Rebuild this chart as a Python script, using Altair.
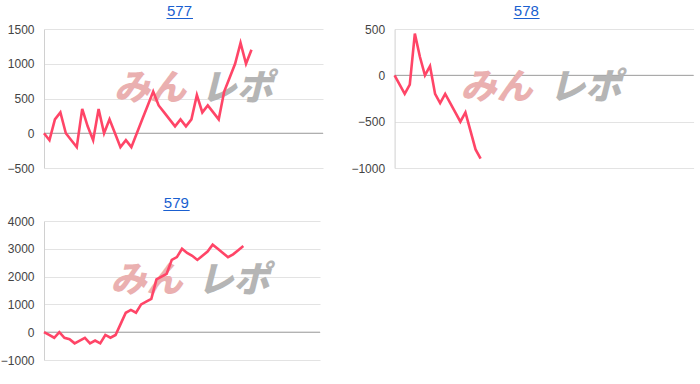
import altair as alt
import pandas as pd

# ---- data ----
v577 = [0, -100, 200, 300, 0, -100, -200, 350, 100, -100, 350, 0, 200, 0, -200, -100, -200,
        0, 200, 400, 600, 400, 300, 200, 100, 200, 100, 200, 550, 300, 400, 300, 200,
        600, 800, 1000, 1300, 1000, 1200]
v578 = [0, -100, -200, -100, 450, 200, 0, 100, -200, -300, -200, -300, -400, -500, -400,
        -600, -800, -900]
v579 = [0, -100, -200, 0, -200, -250, -400, -300, -200, -400, -300, -400, -100, -200, -100,
        300, 700, 800, 700, 1000, 1100, 1200, 1900, 2000, 2100, 2600, 2700, 3000, 2850, 2750,
        2600, 2750, 2900, 3150, 3000, 2850, 2700, 2800, 2950, 3100]

ticks577 = [-500, 0, 500, 1000, 1500]
ticks578 = [-1000, -500, 0, 500]
ticks579 = [-1000, 0, 1000, 2000, 3000, 4000]

LINE = "#ff4567"
BLUE = "#1a5fd0"
FONT = "Liberation Sans"


def panel(name, values, ticks, xmax, width, title_x, ul, wm_pink_x, wm_gray_x, wm_y):
    df = pd.DataFrame({"i": list(range(len(values))), "v": values})
    yscale = alt.Scale(domain=[ticks[0], ticks[-1]], nice=False, zero=False)
    xscale = alt.Scale(domain=[0, xmax], nice=False, zero=False)
    yaxis = alt.Axis(values=ticks, format="d", grid=True, gridColor="#e3e3e3", domain=True,
                     domainColor="#d0d0d0", ticks=False, labelPadding=10,
                     labelColor="#444444", labelFontSize=12, labelFont=FONT,
                     labelFlush=False, labelOverlap=False, labelBound=False, title=None)
    one = alt.Data(values=[{}])

    zero = alt.Chart(pd.DataFrame({"v": [0]})).mark_rule(color="#9e9e9e", strokeWidth=1).encode(
        y=alt.Y("v:Q", scale=yscale, axis=yaxis))
    pink = alt.Chart(one).mark_text(font="Noto Sans CJK JP", fontSize=36, fontWeight=900,
                                    fontStyle="italic", color="#eab0b0", align="center",
                                    baseline="middle").encode(
        x=alt.value(wm_pink_x), y=alt.value(wm_y), text=alt.value("みん"))
    gray = alt.Chart(one).mark_text(font="Noto Sans CJK JP", fontSize=36, fontWeight=900,
                                    fontStyle="italic", color="#b5b5b5", align="center",
                                    baseline="middle").encode(
        x=alt.value(wm_gray_x), y=alt.value(wm_y), text=alt.value("レポ"))
    line = alt.Chart(df).mark_line(color=LINE, strokeWidth=2.6).encode(
        x=alt.X("i:Q", scale=xscale, axis=None),
        y=alt.Y("v:Q", scale=yscale, axis=yaxis))
    title = alt.Chart(one).mark_text(font=FONT, fontSize=15, color=BLUE, align="center",
                                     baseline="alphabetic").encode(
        x=alt.value(title_x), y=alt.value(-13.5), text=alt.value(name))
    under = alt.Chart(one).mark_rule(color=BLUE, strokeWidth=1).encode(
        x=alt.value(ul[0]), x2=alt.value(ul[1]), y=alt.value(-10.5))
    return alt.layer(zero, pink, gray, line, title, under).properties(width=width, height=139)


p577 = panel("577", v577, ticks577, 51.1, 279, 135.5, (122.5, 149), 106, 192.8, 59.7)
p578 = panel("578", v578, ticks578, 59.1, 299, 131.7, (119, 145), 102, 190.7, 59.2)
p579 = panel("579", v579, ticks579, 54.0, 276, 132.3, (119.3, 145.7), 102.5, 189.5, 60.3)

chart = alt.vconcat(
    alt.hconcat(p577, p578, spacing=26.6),
    p579,
    spacing=21,
).properties(
    padding={"left": 0, "top": 3, "right": 0, "bottom": 0},
    background="white",
).configure_view(stroke=None)

chart.save("out.html", embed_options={"renderer": "svg", "actions": False})
